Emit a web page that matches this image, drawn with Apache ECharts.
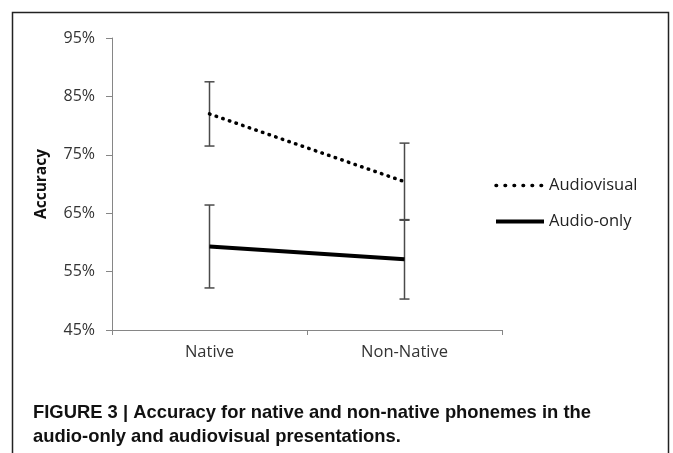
<!DOCTYPE html>
<html>
<head>
<meta charset="utf-8">
<script src="https://cdn.jsdelivr.net/npm/echarts@6/dist/echarts.min.js"></script>
<style>
  html, body { margin: 0; padding: 0; background: #fff; }
  #chart { width: 673px; height: 453px; }
</style>
</head>
<body>
<div id="chart"></div>
<script>
// data (accuracy in %)
var categories = ['Native', 'Non-Native'];
var avMean = [82.0, 70.4];   // Audiovisual
var avErr = [5.5, 6.6];
var aoMean = [59.3, 57.1];   // Audio-only
var aoErr = [7.1, 6.8];
var yTicks = [45, 55, 65, 75, 85, 95];

function errData(mean, err) {
    return mean.map(function (m, i) { return [i, m - err[i], m + err[i]]; });
}

// error bar with caps
function renderErr(params, api) {
    var i = api.value(0);
    var lo = api.coord([i, api.value(1)]);
    var hi = api.coord([i, api.value(2)]);
    var half = 5;
    var st = { stroke: '#4a4a4a', lineWidth: 1.5 };
    return {
        type: 'group',
        children: [
            { type: 'line', shape: { x1: lo[0], y1: lo[1], x2: hi[0], y2: hi[1] }, style: st },
            { type: 'line', shape: { x1: hi[0] - half, y1: hi[1], x2: hi[0] + half, y2: hi[1] }, style: st },
            { type: 'line', shape: { x1: lo[0] - half, y1: lo[1], x2: lo[0] + half, y2: lo[1] }, style: st }
        ]
    };
}

var chartDom = document.getElementById('chart');
var myChart = echarts.init(chartDom);

var labelFont = '"Open Sans", "Noto Sans", sans-serif';

var option = {
    animation: false,
    backgroundColor: '#fff',
    title: {
        text: 'FIGURE 3 | Accuracy for native and non-native phonemes in the\naudio-only and audiovisual presentations.',
        left: 28,
        top: 396,
        textStyle: {
            fontFamily: '"Liberation Sans", Arial, sans-serif',
            fontWeight: 'bold',
            fontSize: 18.4,
            lineHeight: 24,
            color: '#111'
        }
    },
    graphic: [{
        type: 'rect',
        shape: { x: 12.5, y: 12.5, width: 656, height: 460 },
        style: { fill: 'none', stroke: '#222', lineWidth: 1.5 },
        silent: true
    }],
    legend: {
        data: [
            { name: 'Audiovisual', lineStyle: { width: 3.5, type: [0.6, 8.4], cap: 'round' } },
            { name: 'Audio-only', lineStyle: { width: 4 } }
        ],
        orient: 'vertical',
        left: 489,
        top: 172,
        itemWidth: 48,
        itemHeight: 14,
        itemGap: 19,
        itemStyle: { opacity: 0 },
        textStyle: { fontFamily: labelFont, fontSize: 16.5, color: '#222' }
    },
    grid: {
        left: 112,
        right: 171,
        top: 38,
        bottom: 123
    },
    xAxis: {
        type: 'category',
        data: categories,
        boundaryGap: true,
        axisLine: { lineStyle: { color: '#868686', width: 1 } },
        axisTick: { show: true, length: 5, lineStyle: { color: '#868686' } },
        axisLabel: { margin: 14, fontFamily: labelFont, fontSize: 16.5, color: '#333' }
    },
    yAxis: {
        type: 'value',
        min: yTicks[0],
        max: yTicks[yTicks.length - 1],
        interval: 10,
        name: 'Accuracy',
        nameLocation: 'middle',
        nameRotate: 90,
        nameGap: 62,
        nameTextStyle: { fontFamily: labelFont, fontWeight: 'bold', fontSize: 15.5, color: '#111' },
        splitLine: { show: false },
        axisLine: { show: true, lineStyle: { color: '#868686', width: 1 } },
        axisTick: { show: true, length: 6, lineStyle: { color: '#868686' } },
        axisLabel: {
            margin: 17,
            fontFamily: labelFont,
            fontSize: 16,
            color: '#333',
            formatter: function (v) { return v + '%'; }
        }
    },
    series: [
        {
            name: 'Audiovisual',
            type: 'line',
            data: avMean,
            symbol: 'none',
            z: 3,
            lineStyle: { color: '#000', width: 3.5, type: [0.5, 6.5], cap: 'round' },
            itemStyle: { color: '#000' }
        },
        {
            name: 'Audio-only',
            type: 'line',
            data: aoMean,
            symbol: 'none',
            z: 3,
            lineStyle: { color: '#000', width: 4 },
            itemStyle: { color: '#000' }
        },
        {
            type: 'custom',
            renderItem: renderErr,
            encode: { x: 0, y: [1, 2] },
            data: errData(avMean, avErr),
            z: 2
        },
        {
            type: 'custom',
            renderItem: renderErr,
            encode: { x: 0, y: [1, 2] },
            data: errData(aoMean, aoErr),
            z: 2
        }
    ]
};

myChart.setOption(option);
</script>
</body>
</html>
